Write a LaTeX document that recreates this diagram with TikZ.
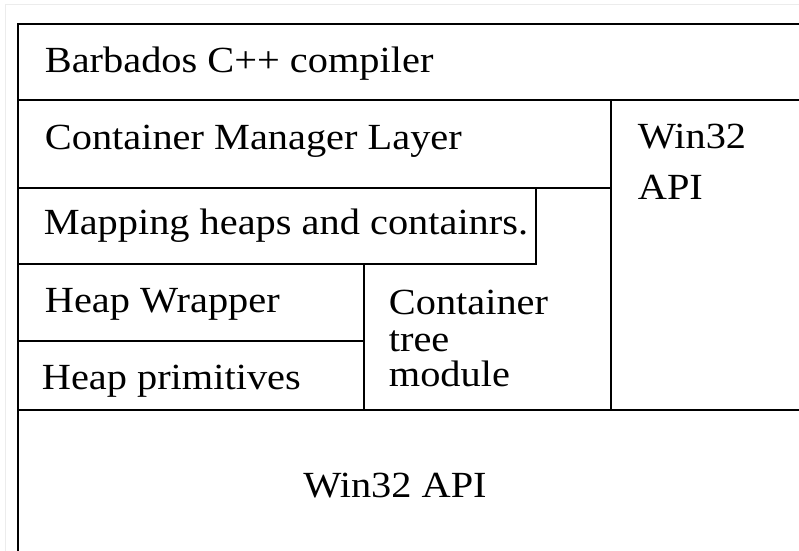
\documentclass[tikz,border=0pt]{standalone}
\usepackage{fontspec}
\setmainfont{Liberation Serif}[FakeStretch=1.095]

\begin{document}
\begin{tikzpicture}[x=1bp, y=-1bp, line width=1.8bp,
  lbl/.style={anchor=base west, inner sep=0pt, font=\fontsize{37}{44}\selectfont}]
  \useasboundingbox (0,0) rectangle (799,551);
  % --- page frame ---
  \draw[gray!15, line width=0.8bp] (5,551) -- (5,4) -- (799,4);
  % --- layer boxes (page cuts them at right and bottom) ---
  \draw (799,24) -- (18,24) -- (18,551);
  \draw (18,100) -- (799,100);                  % under compiler
  \draw (18,188) -- (611,188);                  % under manager layer
  \draw (536,188) -- (536,264) -- (18,264);     % mapping box
  \draw (18,341) -- (364,341);                  % wrapper / primitives
  \draw (364,264) -- (364,410);                 % heap | tree
  \draw (611,100) -- (611,410);                 % side API column
  \draw (18,410) -- (799,410);                  % over bottom API
  % --- layer labels ---
  \node[lbl] (comp) at (44,73) {Barbados C++ compiler};
  \node[lbl] (mgr) at (44,150) {Container Manager Layer};
  \node[lbl] (map) at (43,235) {Mapping heaps and containrs.};
  \node[lbl] (wrap) at (44,313) {Heap Wrapper};
  \node[lbl] (prim) at (41,389) {Heap primitives};
  \node[lbl] (side1) at (637,149) {Win32};
  \node[lbl] (side2) at (637,200) {API};
  \node[lbl] (tree1) at (388,315) {Container};
  \node[lbl] (tree2) at (388,351) {tree};
  \node[lbl] (tree3) at (388,386) {module};
  \node[lbl, anchor=base] (api) at (395,497) {Win32 API};
\end{tikzpicture}
\end{document}
